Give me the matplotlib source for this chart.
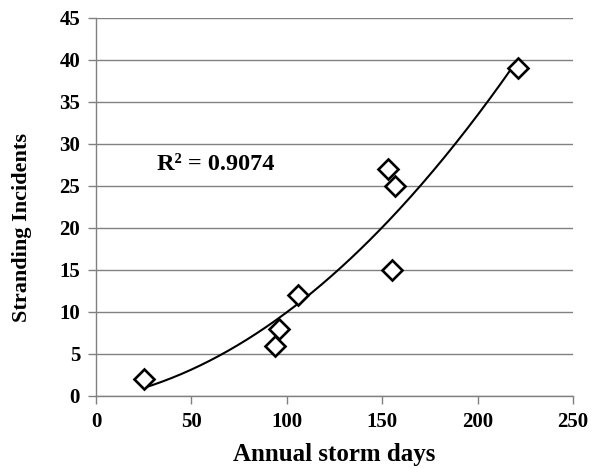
import numpy as np
import matplotlib
matplotlib.use("Agg")
import matplotlib.pyplot as plt

storm_days = [25, 94, 96, 106, 153, 155, 157, 221]
incidents = [2, 6, 8, 12, 27, 15, 25, 39]
x_ticks = [0, 50, 100, 150, 200, 250]
y_ticks = [0, 5, 10, 15, 20, 25, 30, 35, 40, 45]
r2_text = "R² = 0.9074"

plt.rcParams['font.family'] = ['Liberation Serif', 'DejaVu Serif']
plt.rcParams['font.weight'] = 'bold'

fig = plt.figure(figsize=(5.98, 4.69), dpi=100)
ax = fig.add_axes([0.1605, 0.1557, 0.7975, 0.806])

coef = np.polyfit(storm_days, incidents, 2)
xs = np.linspace(min(storm_days), max(storm_days), 200)
ax.plot(xs, np.polyval(coef, xs), color='black', lw=1.5, zorder=3)
ax.plot(storm_days, incidents, linestyle='none', marker='D', markersize=10,
        markerfacecolor='white', markeredgecolor='black', markeredgewidth=1.9, zorder=4)

ax.set_xlim(0, 250)
ax.set_ylim(0, 45)
ax.set_xticks(x_ticks)
ax.set_yticks(y_ticks)
ax.yaxis.grid(True, color='#808080', lw=1)
ax.set_axisbelow(True)
for s in ['top', 'right']:
    ax.spines[s].set_visible(False)
for s in ['left', 'bottom']:
    ax.spines[s].set_color('#808080')
    ax.spines[s].set_linewidth(1)
ax.tick_params(axis='both', colors='#808080', length=5.5, width=1, labelsize=15, pad=6)
for lab in ax.get_xticklabels() + ax.get_yticklabels():
    lab.set_color('black')
    lab.set_fontweight('bold')

ax.set_xlabel('Annual storm days', fontsize=18, fontweight='bold', va='top')
ax.xaxis.set_label_coords(0.5, -0.124)
ax.set_ylabel('Stranding Incidents', fontsize=16, fontweight='bold')
ax.yaxis.set_label_coords(-0.135, 0.447)
ax.text(0.128, 0.598, r2_text, transform=ax.transAxes, fontsize=17.5,
        fontweight='bold', va='baseline')

fig.savefig('out.png', dpi=100)
